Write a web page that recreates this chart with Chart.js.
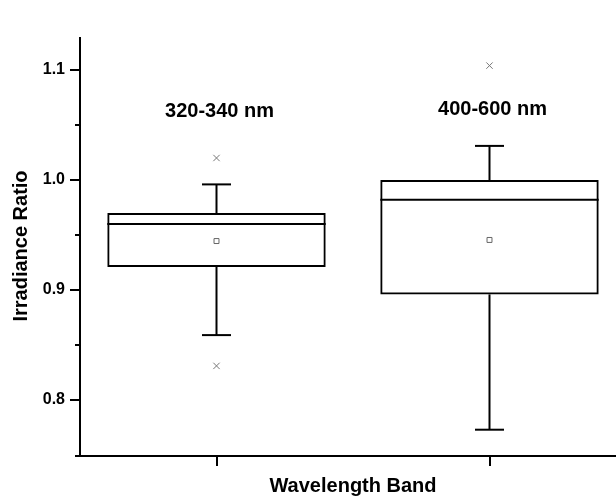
<!DOCTYPE html>
<html><head><meta charset="utf-8">
<script src="https://cdn.jsdelivr.net/npm/chart.js@4"></script>
<style>
html,body{margin:0;padding:0;overflow:hidden;background:#fff;width:616px;height:496px}
#wrap{width:640px;height:496px}
canvas{display:block}
</style></head>
<body><div id="wrap"><canvas id="c" width="640" height="496"></canvas></div>
<script>
const categories = ['320-340 nm', '400-600 nm'];
const whiskerLow = [0.859, 0.773];
const q1 = [0.921, 0.896];
const median = [0.960, 0.982];
const q3 = [0.970, 1.000];
const whiskerHigh = [0.996, 1.031];
const means = [0.9445, 0.9455];
const outlierHigh = [1.020, 1.104];
const outlierLow = [0.831, null];
const yMajorTicks = [0.8, 0.9, 1.0, 1.1];
const yMinorTicks = [0.85, 0.95, 1.05];
const yTickLabels = ['0.8', '0.9', '1.0', '1.1'];

const FONT = "'Liberation Sans', Arial, sans-serif";

const boxExtras = {
  id: 'boxExtras',
  afterDatasetsDraw(chart, args, opts) {
    const {ctx, scales: {x, y}, chartArea} = chart;
    const meta = chart.getDatasetMeta(0);
    ctx.save();
    ctx.strokeStyle = '#000';
    ctx.lineWidth = 2;
    ctx.lineCap = 'butt';
    const seg = (x1, y1, x2, y2) => { ctx.beginPath(); ctx.moveTo(x1, y1); ctx.lineTo(x2, y2); ctx.stroke(); };
    categories.forEach((c, i) => {
      const cx = x.getPixelForValue(i);
      const half = meta.data[i].width / 2;
      const capHalf = 14.5;
      seg(cx - half, y.getPixelForValue(median[i]), cx + half, y.getPixelForValue(median[i]));
      seg(cx, y.getPixelForValue(q3[i]), cx, y.getPixelForValue(whiskerHigh[i]));
      seg(cx - capHalf, y.getPixelForValue(whiskerHigh[i]), cx + capHalf, y.getPixelForValue(whiskerHigh[i]));
      seg(cx, y.getPixelForValue(q1[i]), cx, y.getPixelForValue(whiskerLow[i]));
      seg(cx - capHalf, y.getPixelForValue(whiskerLow[i]), cx + capHalf, y.getPixelForValue(whiskerLow[i]));
    });
    // axes
    const L = chartArea.left, B = chartArea.bottom + 1;
    seg(L, chartArea.top, L, B + 1);
    seg(L - 5, B, chartArea.right, B);
    yMajorTicks.forEach(v => { const p = Math.round(y.getPixelForValue(v)); seg(L - 10, p, L, p); });
    yMinorTicks.forEach(v => { const p = Math.round(y.getPixelForValue(v)); seg(L - 5, p, L, p); });
    categories.forEach((c, i) => { const p = Math.round(x.getPixelForValue(i)); seg(p, B, p, B + 10); });
    // band labels
    ctx.fillStyle = '#000';
    ctx.font = 'bold 20px ' + FONT;
    ctx.textAlign = 'center';
    ctx.textBaseline = 'middle';
    categories.forEach((c, i) => {
      ctx.fillText(c, x.getPixelForValue(i) + 3, y.getPixelForValue(opts.labelValues[i]));
    });
    ctx.restore();
  }
};

new Chart(document.getElementById('c'), {
  data: {
    labels: categories,
    datasets: [
      {
        type: 'bar',
        data: categories.map((c, i) => [q1[i], q3[i]]),
        backgroundColor: 'rgba(0,0,0,0)',
        borderColor: '#000',
        borderWidth: 2,
        borderSkipped: false,
        barPercentage: 0.8,
        categoryPercentage: 1.0
      },
      {
        type: 'line', data: means, showLine: false,
        pointStyle: 'rect', pointRadius: 3.5, borderWidth: 1,
        borderColor: '#666', backgroundColor: 'rgba(0,0,0,0)'
      },
      {
        type: 'line', data: outlierHigh, showLine: false,
        pointStyle: 'crossRot', pointRadius: 4.5, borderWidth: 1,
        borderColor: '#777', backgroundColor: 'rgba(0,0,0,0)'
      },
      {
        type: 'line', data: outlierLow, showLine: false,
        pointStyle: 'crossRot', pointRadius: 4.5, borderWidth: 1,
        borderColor: '#777', backgroundColor: 'rgba(0,0,0,0)'
      }
    ]
  },
  options: {
    responsive: false,
    animation: false,
    layout: {padding: {top: 37, right: 14, left: 0, bottom: 0}},
    plugins: {
      legend: {display: false},
      tooltip: {enabled: false},
      boxExtras: {labelValues: [1.062, 1.064]}
    },
    scales: {
      x: {
        type: 'category',
        offset: true,
        grid: {display: false, drawTicks: false},
        border: {display: false},
        ticks: {display: false},
        title: {display: true, text: 'Wavelength Band', color: '#000',
          font: {family: FONT, size: 20, weight: 'bold', lineHeight: 1}, padding: 0},
        afterFit: s => { s.height = 41; }
      },
      y: {
        type: 'linear',
        min: 0.75,
        max: 1.13,
        grid: {display: false, drawTicks: false},
        border: {display: false},
        afterBuildTicks: s => { s.ticks = yMajorTicks.map(v => ({value: v})); },
        ticks: {
          padding: 15,
          color: '#000',
          font: {family: FONT, size: 16, weight: 'bold'},
          callback: (v, i) => yTickLabels[i]
        },
        title: {display: true, text: 'Irradiance Ratio', color: '#000',
          font: {family: FONT, size: 20, weight: 'bold', lineHeight: 1}, padding: {top: 11, bottom: 0}},
        afterFit: s => { s.width = 80; }
      }
    }
  },
  plugins: [boxExtras]
});
</script>
</body></html>
